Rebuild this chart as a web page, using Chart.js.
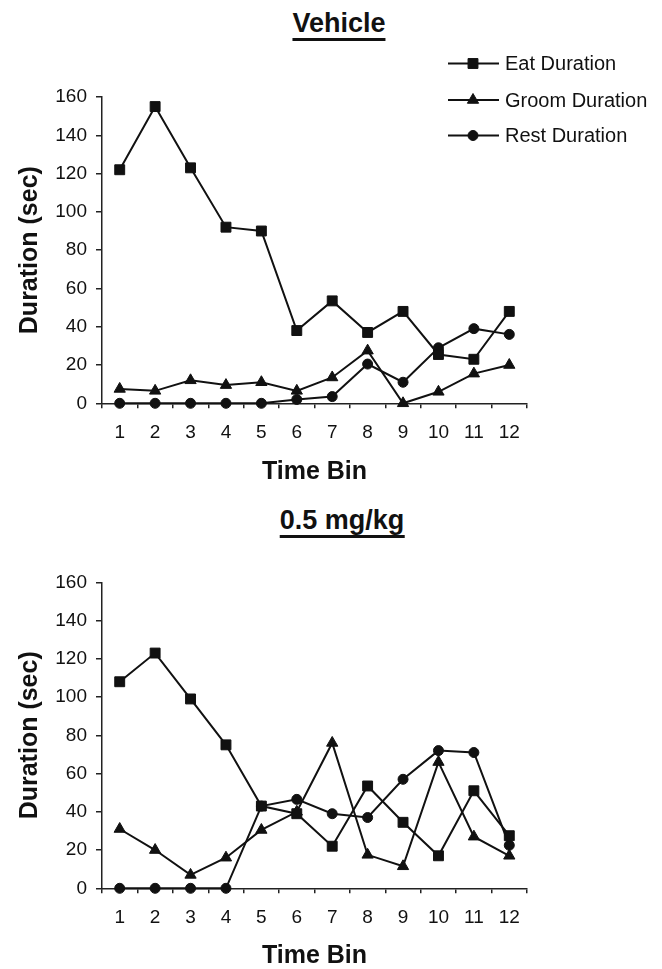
<!DOCTYPE html>
<html>
<head>
<meta charset="utf-8">
<script src="https://cdn.jsdelivr.net/npm/chart.js@4.4.0/dist/chart.umd.min.js"></script>
<style>
  html, body { margin: 0; padding: 0; background: #fff; }
  body { width: 662px; height: 969px; position: relative; overflow: hidden;
         font-family: "Liberation Sans", Arial, sans-serif; }
  .ttl { position: absolute; transform: translateX(-50%); white-space: nowrap;
         font-weight: bold; font-size: 27px; line-height: 27px; color: #111;
         padding-bottom: 1px; border-bottom: 3px solid #111; }
  .box { position: absolute; left: 0; width: 662px; height: 485px; }
</style>
</head>
<body>
<div class="ttl" style="left:339px; top:10px;">Vehicle</div>
<div class="ttl" style="left:342px; top:507px;">0.5 mg/kg</div>
<div class="box" style="top:0px;"><canvas id="c1"></canvas></div>
<div class="box" style="top:484px;"><canvas id="c2"></canvas></div>
<script>
// ---- data ----
const timeBins = ['1','2','3','4','5','6','7','8','9','10','11','12'];
const seriesNames = ['Eat Duration', 'Groom Duration', 'Rest Duration'];
const yMin = 0, yMax = 160, yStep = 20;
const yAxisLabel = 'Duration (sec)';
const xAxisLabel = 'Time Bin';

const vehicleEat   = [122, 155, 123, 92, 90, 38, 53.5, 37, 48, 25.5, 23, 48];
const vehicleGroom = [7.5, 6.5, 12, 9.5, 11, 6.5, 13.5, 27.5, 0, 6, 15.5, 20];
const vehicleRest  = [0, 0, 0, 0, 0, 2, 3.5, 20.5, 11, 29, 39, 36];

const doseEat   = [108, 123, 99, 75, 43, 39, 22, 53.5, 34.5, 17, 51, 27.5];
const doseGroom = [31, 20, 7, 16, 30.5, 40, 76, 17.5, 11.5, 66, 27, 17];
const doseRest  = [0, 0, 0, 0, 43, 46.5, 39, 37, 57, 72, 71, 22.5];

// ---- styling ----
const INK = '#111';
const AXIS = '#222';
Chart.defaults.font.family = "'Liberation Sans', Arial, sans-serif";
Chart.defaults.color = INK;

const markerStyles = [
  { pointStyle: 'rect', pointRadius: 7 },
  { pointStyle: 'triangle', pointRadius: 6.5 },
  { pointStyle: 'circle', pointRadius: 5 }
];

function makeDatasets(values) {
  return values.map((v, i) => ({
    label: seriesNames[i],
    data: v,
    borderColor: INK,
    backgroundColor: INK,
    borderWidth: 2,
    pointStyle: markerStyles[i].pointStyle,
    pointRadius: markerStyles[i].pointRadius,
    pointHoverRadius: markerStyles[i].pointRadius,
    pointBorderWidth: 1,
    pointBorderColor: INK,
    pointBackgroundColor: INK,
    tension: 0,
    clip: false
  }));
}

function drawMarker(ctx, style, r, x, y) {
  if (Chart.helpers && Chart.helpers.drawPoint) {
    Chart.helpers.drawPoint(ctx, { pointStyle: style, radius: r, borderWidth: 1, rotation: 0 }, x, y);
    return;
  }
  ctx.beginPath();
  if (style === 'rect') {
    const s = r * Math.SQRT1_2;
    ctx.rect(x - s, y - s, 2 * s, 2 * s);
  } else if (style === 'triangle') {
    ctx.moveTo(x, y - r);
    ctx.lineTo(x + r * Math.sqrt(3) / 2, y + r / 2);
    ctx.lineTo(x - r * Math.sqrt(3) / 2, y + r / 2);
    ctx.closePath();
  } else {
    ctx.arc(x, y, r, 0, Math.PI * 2);
  }
  ctx.fill();
  ctx.stroke();
}

const lineLegend = {
  id: 'lineLegend',
  afterDraw(chart) {
    const ctx = chart.ctx;
    const rows = [63.5, 100, 135.5];
    ctx.save();
    chart.data.datasets.forEach((ds, i) => {
      const y = rows[i];
      ctx.strokeStyle = INK;
      ctx.fillStyle = INK;
      ctx.lineWidth = 2;
      ctx.beginPath();
      ctx.moveTo(448, y);
      ctx.lineTo(499, y);
      ctx.stroke();
      ctx.lineWidth = 1;
      drawMarker(ctx, ds.pointStyle, ds.pointRadius, 473, y);
      ctx.font = "20px 'Liberation Sans', Arial, sans-serif";
      ctx.textAlign = 'left';
      ctx.textBaseline = 'middle';
      ctx.fillText(ds.label, 505, y + 1);
    });
    ctx.restore();
  }
};

function makeChart(id, values, padTop, xAxisHeight, withLegend) {
  return new Chart(document.getElementById(id), {
    type: 'line',
    data: { labels: timeBins, datasets: makeDatasets(values) },
    plugins: withLegend ? [lineLegend] : [],
    options: {
      responsive: true,
      maintainAspectRatio: false,
      animation: false,
      events: [],
      layout: { padding: { top: padTop, left: 0, right: 135, bottom: 0 } },
      plugins: { legend: { display: false }, tooltip: { enabled: false }, title: { display: false } },
      scales: {
        x: {
          type: 'category',
          offset: true,
          grid: { offset: true, drawOnChartArea: false, drawTicks: true, tickLength: 5, color: AXIS, lineWidth: 1.5 },
          border: { display: true, color: AXIS, width: 1.5 },
          ticks: { font: { size: 19 }, color: INK, padding: 13, maxRotation: 0, autoSkip: false },
          title: { display: true, text: xAxisLabel, font: { size: 25, weight: 'bold', lineHeight: 1 }, color: INK, padding: 0 },
          afterFit(scale) { scale.height = xAxisHeight; }
        },
        y: {
          min: yMin, max: yMax,
          grid: { drawOnChartArea: false, drawTicks: true, tickLength: 6, color: AXIS, lineWidth: 1.5 },
          border: { display: true, color: AXIS, width: 1.5 },
          ticks: { stepSize: yStep, font: { size: 19 }, color: INK, padding: 9 },
          title: { display: true, text: yAxisLabel, font: { size: 25, weight: 'bold', lineHeight: 1 }, color: INK, padding: { top: 18, bottom: 0 } },
          afterFit(scale) { scale.width = 102; }
        }
      }
    }
  });
}

makeChart('c1', [vehicleEat, vehicleGroom, vehicleRest], 97, 81.7, true);
makeChart('c2', [doseEat, doseGroom, doseRest], 98.3, 80.7, false);
</script>
</body>
</html>
